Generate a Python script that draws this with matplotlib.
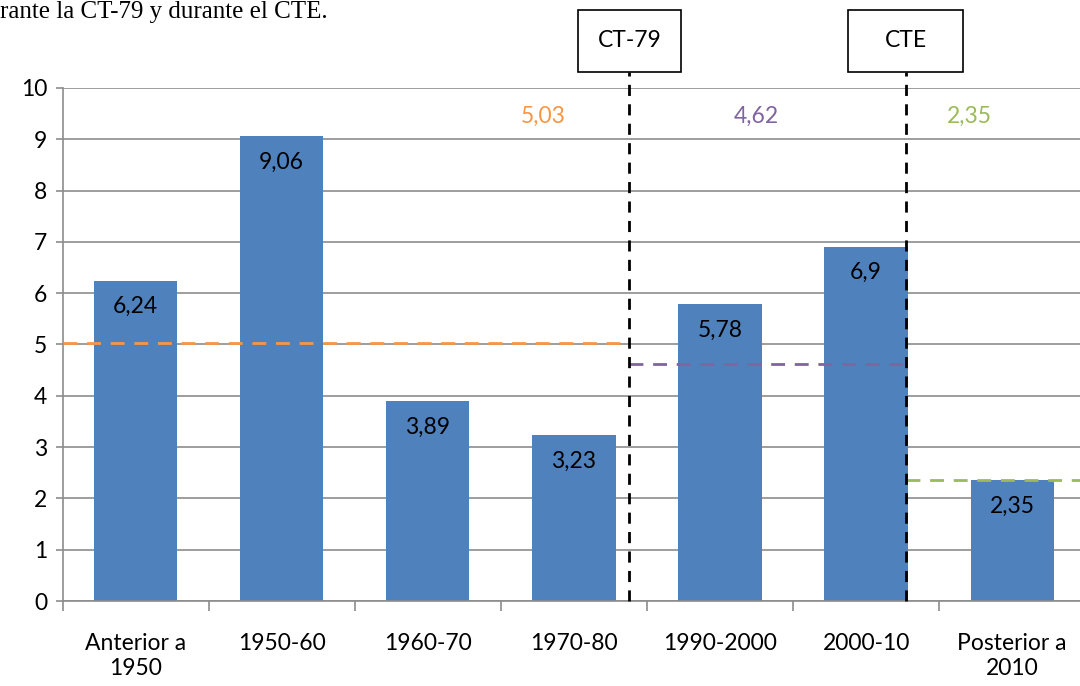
import matplotlib
matplotlib.use("Agg")
import matplotlib.pyplot as plt
import matplotlib.patches as patches
import matplotlib.transforms as mtransforms

# Values per construction period
periods = ['Anterior a\n1950', '1950-60', '1960-70', '1970-80',
           '1990-2000', '2000-10', 'Posterior a\n2010']
values = [6.24, 9.06, 3.89, 3.23, 5.78, 6.9, 2.35]
value_labels = ['6,24', '9,06', '3,89', '3,23', '5,78', '6,9', '2,35']

# Regulation milestones (x position between categories) and averages
norm_names = ['CT-79', 'CTE']
norm_pos = [3.38, 5.27]
avg_values = [5.03, 4.62, 2.35]
avg_labels = ['5,03', '4,62', '2,35']
avg_colors = ['#F79646', '#8064A2', '#9BBB59']

plt.rcParams['font.family'] = ['Lato', 'DejaVu Sans']
FS = 16.5

fig = plt.figure(figsize=(10.8, 6.86), dpi=100)
# the plot area runs a little past the right edge of the image
ax = fig.add_axes([0.0579, 0.1239, 0.947, 0.748])

x = list(range(len(periods)))
bar_width = 0.57
ax.bar(x, values, width=bar_width, color='#4F81BD', zorder=2)

for xi, v, lab in zip(x, values, value_labels):
    ax.text(xi, v - 0.3, lab, ha='center', va='top', fontsize=FS, color='black', zorder=4)

ax.set_xlim(-0.5, len(periods) - 0.5)
ax.set_ylim(0, 10)
ax.set_yticks(range(0, 11))
ax.yaxis.grid(True, color='#8C8C8C', linewidth=1.2, zorder=0)
ax.set_axisbelow(True)

ax.set_xticks(x)
ax.set_xticklabels(periods, fontsize=FS, linespacing=1.25)
ax.tick_params(axis='x', length=0, pad=23)
ax.set_xticks([i - 0.5 for i in range(len(periods) + 1)], minor=True)
ax.tick_params(axis='x', which='minor', length=7, width=1.2, color='#8C8C8C')
ax.tick_params(axis='y', labelsize=FS, length=5, width=1.2, color='#8C8C8C', pad=6)

for side in ['top', 'right']:
    ax.spines[side].set_visible(False)
for side in ['left', 'bottom']:
    ax.spines[side].set_color('#8C8C8C')
    ax.spines[side].set_linewidth(1.2)

# Average lines for each regulatory period
bounds = [-0.5] + norm_pos + [len(periods) - 0.5]
for i, (avg, col) in enumerate(zip(avg_values, avg_colors)):
    ax.hlines(avg, bounds[i], bounds[i + 1], colors=col, linewidth=2,
              linestyles=(0, (5, 3.5)), zorder=3)

label_x = [2.79, 4.25, 5.71]
for lx, lab, col in zip(label_x, avg_labels, avg_colors):
    ax.text(lx, 9.45, lab, ha='center', va='center', fontsize=FS, color=col)

# Regulation markers: dashed line plus labelled box above the plot
trans = mtransforms.blended_transform_factory(ax.transData, ax.transAxes)
box_widths = [0.70, 0.79]
for name, pos, bw in zip(norm_names, norm_pos, box_widths):
    ax.plot([pos, pos], [0, 1.031], transform=trans, color='black', linewidth=2,
            linestyle=(0, (4, 3)), clip_on=False, zorder=5)
    rect = patches.Rectangle((pos - bw / 2, 1.031), bw, 0.121, transform=trans,
                             facecolor='white', edgecolor='black', linewidth=1.2,
                             clip_on=False)
    ax.add_patch(rect)
    ax.text(pos, 1.031 + 0.0605, name, transform=trans, ha='center', va='center',
            fontsize=FS)

fig.text(0.0, 1 - 18 / 686, 'rante la CT-79 y durante el CTE.', ha='left',
         va='baseline', fontsize=18, family='Liberation Serif')

fig.savefig('out.png', dpi=100, facecolor='white')
